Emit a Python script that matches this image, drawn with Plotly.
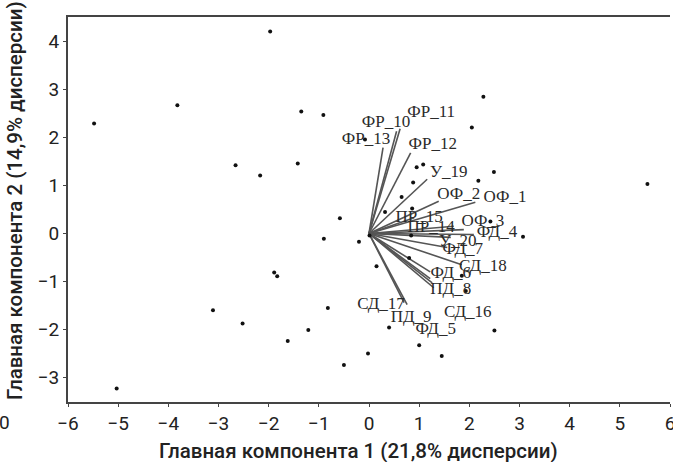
import plotly.graph_objects as go

# Observation scores (PC1, PC2)
score_x = [-5.48, -3.82, -1.97, -1.35, -0.91, -2.66, -2.17, -1.42, -0.08,
           -0.58, -0.90, -0.20, 0.01, -1.89, -1.83, -3.11, -2.52, -1.21,
           -1.62, -0.82, -0.50, -0.02, -5.03, 2.28, 2.05, 2.49, 2.18, 5.55,
           3.07, 2.42, 1.85, 1.93, 2.50, 0.95, 1.08, 0.88, 0.65, 0.32, 0.86,
           0.84, 0.80, 0.15, 0.40, 1.00, 1.45]
score_y = [2.29, 2.67, 4.21, 2.54, 2.47, 1.42, 1.21, 1.46, 1.96,
           0.32, -0.11, -0.17, -0.04, -0.81, -0.89, -1.60, -1.875, -2.01,
           -2.24, -1.55, -2.74, -2.50, -3.23, 2.85, 2.21, 1.28, 1.10, 1.03,
           -0.07, 0.25, -0.88, -1.20, -2.02, 1.38, 1.44, 1.06, 0.76, 0.45, 0.52,
           -0.04, -0.51, -0.68, -1.96, -2.33, -2.55]

# Variable loadings (arrow end points)
var_names = ["ФР_13", "ФР_10", "ФР_11", "ФР_12", "У_19", "ОФ_2", "ОФ_1",
             "ПР_15", "ПР_14", "ОФ_3", "ФД_4", "У_20", "ФД_7", "СД_18",
             "ФД_6", "СД_16", "ФД_5", "ПД_8", "СД_17", "ПД_9"]
load_x = [0.28, 0.55, 0.62, 0.83, 1.16, 1.39, 2.12,
          0.90, 1.69, 1.89, 2.09, 1.63, 1.56, 1.85,
          1.22, 1.22, 1.26, 1.29, 0.70, 0.76]
load_y = [1.79, 2.13, 2.18, 1.68, 1.13, 0.67, 0.65,
          0.33, 0.15, 0.08, -0.02, -0.08, -0.29, -0.65,
          -0.80, -0.94, -1.03, -1.13, -1.44, -1.48]
# Label anchor points (data coordinates)
label_x = [-0.06, 0.34, 1.24, 1.27, 1.59, 1.79, 2.71,
           1.00, 1.24, 2.27, 2.55, 1.77, 1.87, 2.27,
           1.63, 1.97, 1.33, 1.63, 0.24, 0.84]
label_y = [1.96, 2.31, 2.52, 1.85, 1.27, 0.81, 0.75,
           0.33, 0.125, 0.25, 0.02, -0.17, -0.33, -0.69,
           -0.83, -1.65, -2.00, -1.17, -1.48, -1.75]

x_ticks = [-6, -5, -4, -3, -2, -1, 0, 1, 2, 3, 4, 5, 6]
y_ticks = [-3, -2, -1, 0, 1, 2, 3, 4]

x_title = "Главная компонента 1 (21,8% дисперсии)"
y_title = "Главная компонента 2 (14,9% дисперсии)"

sans = "Roboto, sans-serif"
serif = "Liberation Serif, Times New Roman, serif"

fig = go.Figure()

lx, ly = [], []
for x, y in zip(load_x, load_y):
    lx += [0, x, None]
    ly += [0, y, None]
fig.add_trace(go.Scatter(x=lx, y=ly, mode="lines",
                         line=dict(color="#555555", width=1.6),
                         hoverinfo="skip", showlegend=False))

fig.add_trace(go.Scatter(x=score_x, y=score_y, mode="markers",
                         marker=dict(color="#111111", size=4),
                         showlegend=False))

fig.add_trace(go.Scatter(x=label_x, y=label_y, mode="text", text=var_names,
                         textposition="middle center",
                         textfont=dict(family=serif, size=17, color="#2a2a2a"),
                         hoverinfo="skip", showlegend=False))

fig.update_layout(
    width=673, height=462,
    margin=dict(l=68, r=3, t=17, b=60, autoexpand=False),
    paper_bgcolor="white", plot_bgcolor="white",
    xaxis=dict(range=[-6, 6], tickvals=x_ticks,
               ticktext=[str(v).replace("-", "−") for v in x_ticks],
               showgrid=False, zeroline=False, ticklabeloverflow="allow",
               automargin=False,
               showline=True, linecolor="#444444", linewidth=2, mirror=True,
               ticks="outside", ticklen=3, tickcolor="#444444",
               tickfont=dict(family=sans, size=19, color="#222222")),
    yaxis=dict(range=[-3.51, 4.51], tickvals=y_ticks,
               ticktext=[str(v).replace("-", "−") for v in y_ticks],
               showgrid=False, zeroline=False, automargin=False,
               showline=True, linecolor="#444444", linewidth=2, mirror=False,
               ticks="outside", ticklen=3, tickcolor="#444444",
               tickfont=dict(family=sans, size=19, color="#222222")),
    annotations=[
        dict(text=x_title, xref="paper", yref="paper", x=0.483, y=-0.127,
             showarrow=False, xanchor="center", yanchor="middle",
             font=dict(family=sans, size=20.5, color="#222222", weight=500)),
        dict(text=y_title, xref="paper", yref="paper", x=-0.088, y=0.522,
             showarrow=False, xanchor="center", yanchor="middle", textangle=-90,
             font=dict(family=sans, size=20.5, color="#222222", weight=500)),
        dict(text="0", xref="paper", yref="paper", x=-0.105, y=-0.052,
             showarrow=False, xanchor="center", yanchor="middle",
             font=dict(family=sans, size=19, color="#222222")),
    ],
)

fig.write_html("out.html", config={"displayModeBar": False},
               post_script="document.body.style.margin='0';document.body.style.padding='0';")
